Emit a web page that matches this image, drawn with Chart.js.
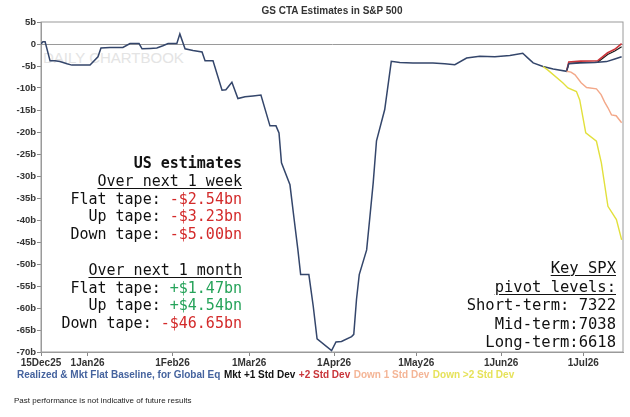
<!DOCTYPE html>
<html>
<head>
<meta charset="utf-8">
<script src="https://cdn.jsdelivr.net/npm/chart.js@4.4.1/dist/chart.umd.min.js"></script>
<style>
  html, body { margin: 0; padding: 0; background: #fff; }
  #wrap { position: relative; width: 630px; height: 417px; overflow: hidden; font-family: "Liberation Sans", Arial, sans-serif; }
  #chart { position: absolute; left: 0; top: 0; z-index: 1; }
  .txt { position: absolute; z-index: 2; white-space: pre; }
  #title { left: 0; width: 664px; top: 5px; text-align: center; font-weight: bold; font-size: 10px; color: #333; }
  #mark { left: 43px; top: 49px; font-size: 15px; color: #e4e4e4; z-index: 0; }
  .mono { font-family: "DejaVu Sans Mono", monospace; color: #111; text-align: right; }
  #usBox { right: 388px; top: 155px; font-size: 15px; line-height: 17.8px; }
  #spxBox { right: 14px; top: 259px; font-size: 15.5px; line-height: 18.6px; }
  .neg { color: #d32a2a; }
  .pos { color: #26a35a; }
  u { text-decoration-thickness: 1px; text-underline-offset: 2px; }
  #legend { left: 17px; top: 369px; font-size: 10px; font-weight: bold; }
  #legend span { margin-right: 3.5px; }
  #foot { left: 14px; top: 396px; font-size: 8px; color: #222; }
</style>
</head>
<body>
<div id="wrap">
  <div class="txt" id="mark">DAILY CHARTBOOK</div>
  <canvas id="chart" width="630" height="417"></canvas>
  <div class="txt" id="title">GS CTA Estimates in S&amp;P 500</div>
  <div class="txt mono" id="usBox"><b>US estimates</b>
<u>Over next 1 week</u>
Flat tape: <span class="neg">-$2.54bn</span>
Up tape: <span class="neg">-$3.23bn</span>
Down tape: <span class="neg">-$5.00bn</span>

<u>Over next 1 month</u>
Flat tape: <span class="pos">+$1.47bn</span>
Up tape: <span class="pos">+$4.54bn</span>
Down tape: <span class="neg">-$46.65bn</span></div>
  <div class="txt mono" id="spxBox"><u>Key SPX</u>
<u>pivot levels:</u>
Short-term: 7322
Mid-term:7038
Long-term:6618</div>
  <div class="txt" id="legend"></div>
  <div class="txt" id="foot">Past performance is not indicative of future results</div>
</div>
<script>
// x values are days after 15 Dec 2025
const tickDays = [0, 17, 48, 76, 107, 137, 168, 198];
const tickLabels = ['15Dec25', '1Jan26', '1Feb26', '1Mar26', '1Apr26', '1May26', '1Jun26', '1Jul26'];

const baseDays = [0, 0.7, 1.5, 3.3, 5.1, 6.9, 9.5, 11.3, 17.9, 20.8, 21.9, 25.2, 29.9, 32.5, 35.8, 36.9, 39.8, 42.3, 44.5, 46.4,
  49.6, 50.7, 52.6, 55.5, 58.8, 59.9, 62.8, 66.1, 67.5, 69.7, 71.9, 74.5, 77.4, 80.3, 83.6, 85.8, 86.9, 87.8, 90.9, 92.3,
  93.8, 94.8, 97.8, 99.4, 100.8, 106.1, 107.7, 109.7, 113.4, 114.2, 115.2, 116.2, 118.9, 120.1, 121.3, 122.5, 125.5, 127.9, 131, 135.8,
  138.3, 143.1, 147.4, 151.1, 155.4, 160.2, 165.7, 171.2, 175.9, 177.8, 179.7, 183.3, 187, 191.9, 192.7, 196.7, 202.2, 206.5, 209.5, 212];
const baseValues = [0, 0.5, 0.5, -3.8, -3.8, -4.0, -4.5, -4.8, -4.8, -2.9, -0.9, -0.8, -0.8, 0.1, 0.1, -1.1, -1.0, -0.9, -0.4, 0.1,
  0.1, 2.3, -1.1, -1.5, -1.8, -3.8, -3.8, -10.5, -10.4, -8.7, -12.4, -12.0, -11.8, -11.6, -18.6, -18.6, -20.2, -27.0, -32.0, -39.2,
  -46.8, -52.4, -52.4, -59.6, -67.0, -69.7, -67.7, -67.6, -66.5, -66.0, -58.0, -52.4, -46.8, -39.2, -31.5, -22.0, -14.9, -3.95, -4.2, -4.3,
  -4.3, -4.3, -4.5, -4.7, -3.2, -2.8, -2.9, -2.6, -2.1, -3.2, -4.3, -5.1, -5.7, -6.2, -4.5, -4.3, -4.2, -4.0, -3.4, -2.9];

const up1Days = [191.9, 192.7, 197, 203.3, 206.9, 209.5, 212];
const up1Values = [-6.2, -4.4, -4.2, -4.1, -2.4, -1.6, -0.6];

const up2Days = [191.9, 192.7, 197, 203.3, 206.9, 209.5, 212];
const up2Values = [-6.2, -4.1, -3.9, -3.8, -2.0, -1.2, 0.1];

const down1Days = [191.9, 193.5, 195, 197.2, 199.2, 202.8, 204.5, 205.8, 207, 208.3, 210, 212];
const down1Values = [-6.2, -6.4, -7.0, -8.8, -9.9, -10.2, -11.5, -13.2, -14.5, -16.1, -16.3, -17.9];

const down2Days = [183.3, 185.2, 190.5, 192.4, 195.5, 196.7, 198.9, 202.8, 204.6, 207, 210.1, 212];
const down2Values = [-5.1, -6.0, -8.8, -10.0, -10.8, -12.7, -20.2, -22.1, -27.0, -36.9, -39.9, -44.5];

const seriesNames = ['Realized & Mkt Flat Baseline, for Global Eq', 'Mkt +1 Std Dev', '+2 Std Dev', 'Down 1 Std Dev', 'Down >2 Std Dev'];
const lineColors = ['#34466b', '#1a1a1a', '#c9353a', '#f3a889', '#e2e03c'];
const legendColors = ['#45639e', '#111111', '#c9353a', '#f4b596', '#e6e25a'];

const toPoints = (days, values) => days.map((d, i) => ({ x: d, y: values[i] }));

const legend = document.getElementById('legend');
seriesNames.forEach((name, i) => {
    const s = document.createElement('span');
    s.textContent = name;
    s.style.color = legendColors[i];
    legend.appendChild(s);
});

const frame = {
    id: 'frame',
    beforeDatasetsDraw(chart) {
        const a = chart.chartArea;
        const ctx = chart.ctx;
        ctx.save();
        ctx.strokeStyle = '#9a9a9a';
        ctx.lineWidth = 1;
        ctx.strokeRect(a.left, a.top, a.right - a.left, a.bottom - a.top);
        ctx.restore();
    }
};

const makeSet = (i, days, values, width) => ({
    label: seriesNames[i],
    data: toPoints(days, values),
    borderColor: lineColors[i],
    borderWidth: width,
    pointRadius: 0,
    tension: 0,
    fill: false
});

new Chart(document.getElementById('chart'), {
    type: 'line',
    data: {
        datasets: [
            makeSet(4, down2Days, down2Values, 1.4),
            makeSet(3, down1Days, down1Values, 1.4),
            makeSet(0, baseDays, baseValues, 1.5),
            makeSet(2, up2Days, up2Values, 1.6),
            makeSet(1, up1Days, up1Values, 1.2)
        ]
    },
    options: {
        responsive: false,
        animation: false,
        layout: { padding: { left: 0, top: 22, right: 7, bottom: 0 } },
        plugins: { legend: { display: false }, tooltip: { enabled: false } },
        scales: {
            x: {
                type: 'linear',
                min: 0,
                max: 212.5,
                afterBuildTicks: (scale) => { scale.ticks = tickDays.map(v => ({ value: v })); },
                afterFit: (scale) => { scale.height = 65; },
                ticks: {
                    autoSkip: false,
                    maxRotation: 0,
                    padding: 1,
                    color: '#333',
                    font: { family: 'Liberation Sans', size: 10, weight: 'bold' },
                    callback: (v, i) => tickLabels[i]
                },
                grid: { drawOnChartArea: false, tickLength: 4, tickColor: '#888' },
                border: { color: '#9a9a9a' }
            },
            y: {
                min: -70,
                max: 5,
                afterFit: (scale) => { scale.width = 41; },
                ticks: {
                    stepSize: 5,
                    padding: 1,
                    color: '#333',
                    font: { family: 'Liberation Sans', size: 9.5, weight: 'bold' },
                    callback: (v) => v === 0 ? '0' : v + 'b'
                },
                grid: {
                    color: (c) => c.tick && c.tick.value === 0 ? '#9a9a9a' : 'rgba(0,0,0,0)',
                    tickColor: '#888',
                    tickLength: 4
                },
                border: { color: '#9a9a9a' }
            }
        }
    },
    plugins: [frame]
});
</script>
</body>
</html>
